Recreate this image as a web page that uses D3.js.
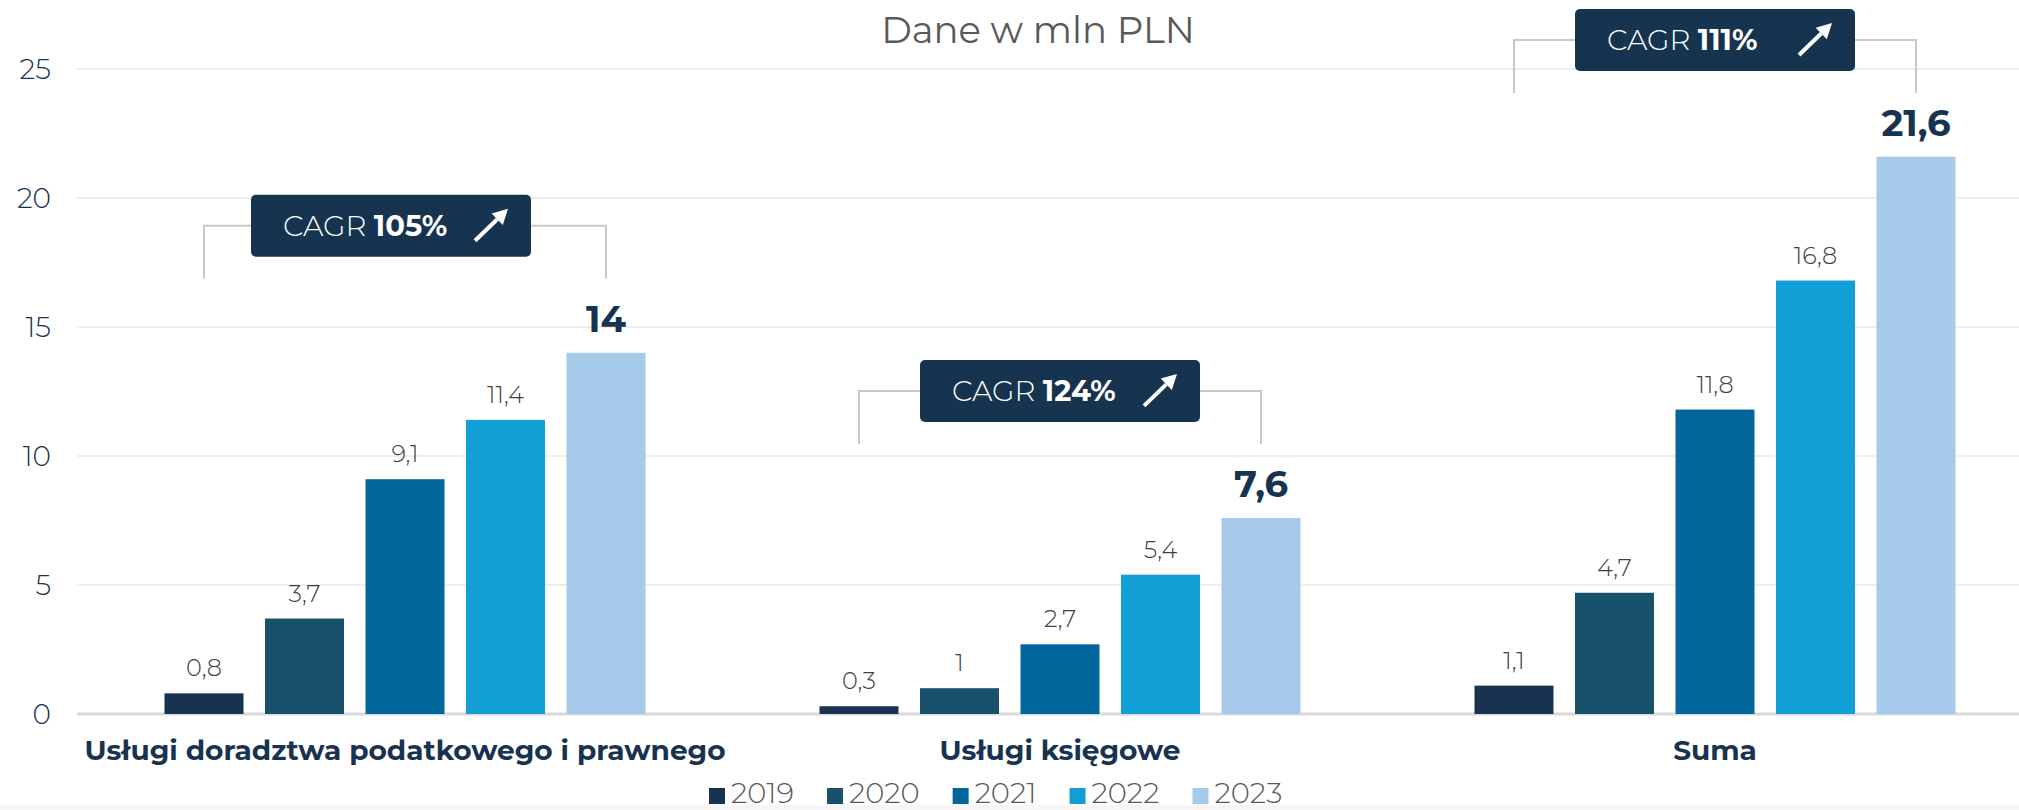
<!DOCTYPE html>
<html>
<head>
<meta charset="utf-8">
<script src="https://cdn.jsdelivr.net/npm/d3@7"></script>
<style>
  body { margin: 0; background: #fff; }
  svg text { font-family: Montserrat, "Noto Sans", sans-serif; }
</style>
</head>
<body>
<div id="chart"></div>
<script>
// Dane w mln PLN, per year across the three categories
const categories = ["Usługi doradztwa podatkowego i prawnego", "Usługi księgowe", "Suma"];
const years = ["2019", "2020", "2021", "2022", "2023"];
const v2019 = [0.8, 0.3, 1.1];
const v2020 = [3.7, 1, 4.7];
const v2021 = [9.1, 2.7, 11.8];
const v2022 = [11.4, 5.4, 16.8];
const v2023 = [14, 7.6, 21.6];
const cagr = ["105%", "124%", "111%"];
const yTicks = [0, 5, 10, 15, 20, 25];
const colors = ["#17334f", "#17516b", "#02669a", "#119fd6", "#a7caea"];

const series = [v2019, v2020, v2021, v2022, v2023];

const W = 2019, H = 810;
const navy = "#17334f";
// the first CAGR box sits a little left of its bracket centre
const boxShift = [-14, 0, 0];

const svg = d3.select("#chart").append("svg")
    .attr("width", W)
    .attr("height", H);

// scales
const x0 = d3.scaleBand().domain(categories).range([77.5, 2042.5]);
const x1 = d3.scaleBand().domain(years).range([87, 568]).paddingInner(0.214);
const y = d3.scaleLinear().domain([0, 25]).range([714, 69]);

const fmt = v => String(v).replace(".", ",");

// faint strip at the very bottom
svg.append("rect")
    .attr("x", 0).attr("y", 805).attr("width", W).attr("height", 5)
    .attr("fill", "#f6f6f6");

// grid
svg.append("g").selectAll("line")
    .data(yTicks)
    .join("line")
    .attr("x1", 77).attr("x2", W)
    .attr("y1", d => y(d)).attr("y2", d => y(d))
    .attr("stroke", d => d === 0 ? "#d9d9d9" : "#eeeeee")
    .attr("stroke-width", d => d === 0 ? 3 : 2);

// y tick labels
svg.append("g").selectAll("text")
    .data(yTicks)
    .join("text")
    .attr("x", 51)
    .attr("y", d => y(d))
    .attr("dy", "0.36em")
    .attr("text-anchor", "end")
    .style("font-size", "28px")
    .style("font-weight", 300)
    .attr("fill", navy)
    .text(d => d);

// title
svg.append("text")
    .attr("x", 1038).attr("y", 43)
    .attr("text-anchor", "middle")
    .style("font-size", "37px")
    .attr("fill", "#595959")
    .text("Dane w mln PLN");

// bars
const groups = svg.append("g").selectAll("g")
    .data(categories)
    .join("g")
    .attr("transform", d => `translate(${x0(d)},0)`);

groups.each(function (cat, ci) {
    const g = d3.select(this);
    const rows = years.map((yr, yi) => ({ yr, yi, v: series[yi][ci] }));

    g.selectAll("rect.bar")
        .data(rows)
        .join("rect")
        .attr("class", "bar")
        .attr("x", d => x1(d.yr))
        .attr("width", x1.bandwidth())
        .attr("y", d => y(d.v))
        .attr("height", d => y(0) - y(d.v))
        .attr("fill", d => colors[d.yi]);

    g.selectAll("text.val")
        .data(rows)
        .join("text")
        .attr("class", "val")
        .attr("x", d => x1(d.yr) + x1.bandwidth() / 2)
        .attr("y", d => y(d.v) - (d.yi === 4 ? 21 : 17))
        .attr("text-anchor", "middle")
        .style("font-size", d => d.yi === 4 ? "37px" : "24px")
        .style("font-weight", d => d.yi === 4 ? 700 : 300)
        .attr("fill", d => d.yi === 4 ? navy : "#404040")
        .text(d => fmt(d.v));

    // CAGR bracket + box
    const bx0 = x1("2019") + x1.bandwidth() / 2;
    const bx1 = x1("2023") + x1.bandwidth() / 2;
    const cx = x0.bandwidth() / 2 + boxShift[ci];
    const boxW = 280, boxH = 62;
    const top = Math.max(y(v2023[ci]) - 158, 9);
    const midY = top + 31;

    g.append("path")
        .attr("d", `M${bx0},${top + 84}V${midY}H${bx1}V${top + 84}`)
        .attr("fill", "none")
        .attr("stroke", "#c8c8c8")
        .attr("stroke-width", 2);

    const left = cx - boxW / 2, right = cx + boxW / 2;
    g.append("rect")
        .attr("x", left).attr("y", top)
        .attr("width", boxW).attr("height", boxH)
        .attr("rx", 5)
        .attr("fill", "#16344f");

    const t = g.append("text")
        .attr("x", left + 32).attr("y", top + 41)
        .attr("fill", "#fff")
        .style("font-size", "29px");
    t.append("tspan").style("font-weight", 300).text("CAGR ");
    t.append("tspan").style("font-weight", 700).text(cagr[ci]);

    // arrow
    const ax0 = right - 56, ay0 = top + 46, ax1 = right - 23, ay1 = top + 14;
    const ang = Math.atan2(ay1 - ay0, ax1 - ax0);
    const hl = 15, hw = 8;
    const bxp = ax1 - hl * Math.cos(ang), byp = ay1 - hl * Math.sin(ang);
    g.append("line")
        .attr("x1", ax0).attr("y1", ay0)
        .attr("x2", bxp).attr("y2", byp)
        .attr("stroke", "#fff").attr("stroke-width", 4);
    g.append("path")
        .attr("d", `M${ax1},${ay1}L${bxp - hw * Math.sin(ang)},${byp + hw * Math.cos(ang)}L${bxp + hw * Math.sin(ang)},${byp - hw * Math.cos(ang)}Z`)
        .attr("fill", "#fff");
});

// category labels
svg.append("g").selectAll("text")
    .data(categories)
    .join("text")
    .attr("x", d => x0(d) + x0.bandwidth() / 2)
    .attr("y", 760)
    .attr("text-anchor", "middle")
    .style("font-size", "28px")
    .style("font-weight", 700)
    .attr("fill", navy)
    .text(d => d);

// legend
const legend = svg.append("g").attr("class", "legend");
let lx = 709;
years.forEach((yr, i) => {
    legend.append("rect")
        .attr("x", lx).attr("y", 788)
        .attr("width", 16).attr("height", 16)
        .attr("fill", colors[i]);
    const txt = legend.append("text")
        .attr("x", lx + 22).attr("y", 803)
        .style("font-size", "29px")
        .style("font-weight", 300)
        .attr("fill", "#595959")
        .text(yr);
    lx += 22 + txt.node().getComputedTextLength() + 33;
});
</script>
</body>
</html>
